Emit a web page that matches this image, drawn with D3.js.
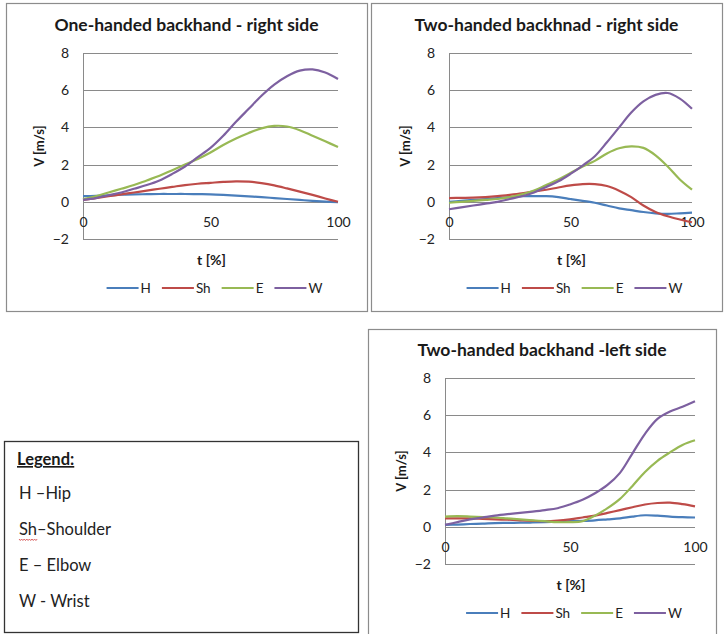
<!DOCTYPE html>
<html>
<head>
<meta charset="utf-8">
<script src="https://cdn.jsdelivr.net/npm/d3@7"></script>
<style>
  html, body { margin: 0; padding: 0; background: #fff; }
  svg { display: block; font-family: Lato, "Open Sans", sans-serif; }
</style>
</head>
<body>
<svg id="chart" width="724" height="634"></svg>
<script>
// ---------------- DATA ----------------
const tValues = [0,5,10,15,20,25,30,35,40,45,50,55,60,65,70,75,80,85,90,95,100];
const seriesNames = ["H", "Sh", "E", "W"];
const seriesColors = ["#4A7EBB", "#BE4B48", "#98B954", "#7D60A0"];
const yTicks = [-2, 0, 2, 4, 6, 8];
const xTicks = [0, 50, 100];

// One-handed backhand - right side
const oneRightH  = [0.30,0.32,0.35,0.38,0.40,0.41,0.42,0.42,0.42,0.41,0.40,0.37,0.33,0.29,0.25,0.20,0.15,0.10,0.05,0.01,-0.02];
const oneRightSh = [0.10,0.20,0.30,0.40,0.50,0.60,0.70,0.80,0.90,0.97,1.02,1.07,1.10,1.08,1.00,0.88,0.72,0.55,0.37,0.18,0.00];
const oneRightE  = [0.15,0.30,0.50,0.70,0.90,1.15,1.40,1.70,2.00,2.30,2.65,3.05,3.40,3.70,3.95,4.08,4.05,3.85,3.55,3.25,2.95];
const oneRightW  = [0.10,0.20,0.35,0.50,0.70,0.90,1.15,1.50,1.90,2.40,2.90,3.55,4.30,5.00,5.70,6.30,6.75,7.05,7.12,6.95,6.60];

// Two-handed backhand - right side
const twoRightH  = [0.00,0.05,0.10,0.15,0.20,0.25,0.30,0.30,0.30,0.25,0.15,0.05,-0.05,-0.20,-0.35,-0.45,-0.55,-0.62,-0.65,-0.62,-0.58];
const twoRightSh = [0.20,0.21,0.22,0.25,0.30,0.37,0.45,0.55,0.65,0.77,0.88,0.95,0.95,0.85,0.60,0.25,-0.20,-0.55,-0.78,-0.95,-1.10];
const twoRightE  = [-0.05,0.00,0.05,0.10,0.15,0.25,0.40,0.60,0.90,1.20,1.55,1.90,2.20,2.60,2.88,2.98,2.90,2.50,1.90,1.20,0.65];
const twoRightW  = [-0.40,-0.30,-0.20,-0.10,0.00,0.15,0.30,0.50,0.80,1.10,1.50,1.95,2.45,3.20,4.00,4.80,5.40,5.75,5.85,5.55,5.00];

// Two-handed backhand - left side
const twoLeftH  = [0.10,0.12,0.15,0.17,0.20,0.21,0.22,0.23,0.25,0.27,0.30,0.32,0.35,0.40,0.45,0.55,0.62,0.60,0.55,0.52,0.50];
const twoLeftSh = [0.45,0.45,0.45,0.43,0.40,0.38,0.35,0.32,0.30,0.33,0.40,0.50,0.60,0.75,0.90,1.05,1.20,1.28,1.30,1.22,1.10];
const twoLeftE  = [0.55,0.57,0.55,0.52,0.50,0.45,0.40,0.35,0.30,0.25,0.25,0.30,0.60,1.00,1.50,2.20,2.95,3.55,4.00,4.40,4.65];
const twoLeftW  = [0.10,0.25,0.40,0.50,0.60,0.68,0.75,0.82,0.90,1.00,1.20,1.45,1.80,2.25,2.90,3.95,5.00,5.80,6.20,6.45,6.75];

const panelTitles = ["One-handed backhand - right side", "Two-handed backhnad - right side", "Two-handed backhand -left side"];
const xAxisTitles = ["t  [%]", "t  [%]", "t [%]"];
const yAxisTitle = "V [m/s]";

const legendTitle = "Legend:";
const legendLines = ["H \u2013Hip", "Sh\u2013Shoulder", "E \u2013 Elbow", "W - Wrist"];

// ---------------- LAYOUT ----------------
const panels = [
  { title: panelTitles[0], xTitle: xAxisTitles[0], series: [oneRightH, oneRightSh, oneRightE, oneRightW],
    box: {x: 6, y: 3, w: 361, h: 308}, plot: {l: 83, r: 338, t: 53, b: 239} },
  { title: panelTitles[1], xTitle: xAxisTitles[1], series: [twoRightH, twoRightSh, twoRightE, twoRightW],
    box: {x: 371, y: 3, w: 351, h: 308}, plot: {l: 449, r: 692, t: 53, b: 239} },
  { title: panelTitles[2], xTitle: xAxisTitles[2], series: [twoLeftH, twoLeftSh, twoLeftE, twoLeftW],
    box: {x: 368, y: 329, w: 348, h: 320}, plot: {l: 445, r: 695, t: 378, b: 564} }
];

const svg = d3.select("#chart");
svg.append("rect").attr("width", 724).attr("height", 634).attr("fill", "#fff");

panels.forEach(p => {
  const g = svg.append("g");
  g.append("rect")
    .attr("x", p.box.x + 0.5).attr("y", p.box.y + 0.5)
    .attr("width", p.box.w).attr("height", p.box.h)
    .attr("fill", "#fff").attr("stroke", "#8c8c8c").attr("stroke-width", 1.2);

  const x = d3.scaleLinear().domain([0, 100]).range([p.plot.l, p.plot.r]);
  const y = d3.scaleLinear().domain([-2, 8]).range([p.plot.b, p.plot.t]);

  // gridlines
  g.append("g").selectAll("line").data(yTicks).join("line")
    .attr("x1", p.plot.l).attr("x2", p.plot.r)
    .attr("y1", d => Math.round(y(d)) + 0.5).attr("y2", d => Math.round(y(d)) + 0.5)
    .attr("stroke", "#8a8a8a").attr("stroke-width", 1);
  // vertical axis line
  g.append("line")
    .attr("x1", Math.round(p.plot.l) + 0.5).attr("x2", Math.round(p.plot.l) + 0.5)
    .attr("y1", y(8)).attr("y2", y(-2))
    .attr("stroke", "#8a8a8a").attr("stroke-width", 1);

  // y tick labels
  const yAxis = g.append("g").attr("transform", `translate(${p.plot.l - 14},0)`)
    .call(d3.axisLeft(y).tickValues(yTicks).tickSize(0).tickPadding(0));
  yAxis.select(".domain").remove();
  yAxis.selectAll("text").attr("font-size", 14).attr("fill", "#222").attr("font-family", "Lato, sans-serif");

  // x tick labels (axis crosses at 0)
  const xAxis = g.append("g").attr("transform", `translate(0,${y(0)})`)
    .call(d3.axisBottom(x).tickValues(xTicks).tickSize(0).tickPadding(15));
  xAxis.select(".domain").remove();
  xAxis.selectAll("text").attr("font-size", 14).attr("fill", "#222").attr("font-family", "Lato, sans-serif");

  // lines
  const line = d3.line()
    .x((d, i) => x(tValues[i]))
    .y(d => y(d))
    .curve(d3.curveCatmullRom.alpha(0.5));
  p.series.forEach((s, i) => {
    g.append("path").datum(s)
      .attr("d", line)
      .attr("fill", "none")
      .attr("stroke", seriesColors[i])
      .attr("stroke-width", 2.2)
      .attr("stroke-linejoin", "round");
  });

  // title
  const cx = p.box.x + p.box.w / 2;
  g.append("text").attr("x", cx).attr("y", p.plot.t - 22)
    .attr("text-anchor", "middle").attr("font-size", 17.5).attr("font-weight", "bold")
    .attr("fill", "#1a1a1a").text(p.title);

  // axis titles
  g.append("text")
    .attr("transform", `translate(${p.plot.l - 44},${(y(8) + y(-2)) / 2}) rotate(-90)`)
    .attr("text-anchor", "middle").attr("dy", "0.35em")
    .attr("font-size", 13).attr("font-weight", "bold").attr("fill", "#1a1a1a")
    .text(yAxisTitle);
  g.append("text")
    .attr("x", (p.plot.l + p.plot.r) / 2 + 1).attr("y", p.plot.b + 21).attr("dy", "0.35em")
    .attr("text-anchor", "middle").attr("font-size", 14).attr("font-weight", "bold").attr("fill", "#1a1a1a")
    .text(p.xTitle);

  // legend (flow layout, centred)
  const ly = p.plot.b + 49;
  const lg = g.append("g");
  let cur = 0;
  seriesNames.forEach((name, i) => {
    lg.append("line").attr("x1", cur).attr("x2", cur + 32).attr("y1", ly).attr("y2", ly)
      .attr("stroke", seriesColors[i]).attr("stroke-width", 2.2);
    const t = lg.append("text").attr("x", cur + 34).attr("y", ly).attr("dy", "0.35em")
      .attr("font-size", 13.5).attr("fill", "#222").text(name);
    cur += 34 + t.node().getComputedTextLength() + 11;
  });
  cur -= 11;
  lg.attr("transform", `translate(${(p.plot.l + p.plot.r) / 2 - cur / 2 + 4},0)`);
});

// ---------------- TEXT LEGEND BOX ----------------
const lb = svg.append("g");
lb.append("rect").attr("x", 4.5).attr("y", 441.5).attr("width", 354).attr("height", 191)
  .attr("fill", "#fff").attr("stroke", "#333").attr("stroke-width", 1.3);
lb.append("text").attr("x", 17).attr("y", 465).attr("font-size", 16.5).attr("font-weight", "bold")
  .attr("text-decoration", "underline").attr("fill", "#1a1a1a").text(legendTitle);
const legendYs = [499, 535, 571, 607];
legendLines.forEach((s, i) => {
  lb.append("text").attr("x", 19).attr("y", legendYs[i]).attr("font-size", 16.5)
    .attr("fill", "#222").text(s);
});
// spell-check squiggle under "Sh"
let sq = "M19,539";
for (let k = 0; k < 14; k++) sq += ` l1.3,${k % 2 ? -1.5 : 1.5}`;
lb.append("path").attr("d", sq).attr("fill", "none").attr("stroke", "#d04040").attr("stroke-width", 0.8);
</script>
</body>
</html>
